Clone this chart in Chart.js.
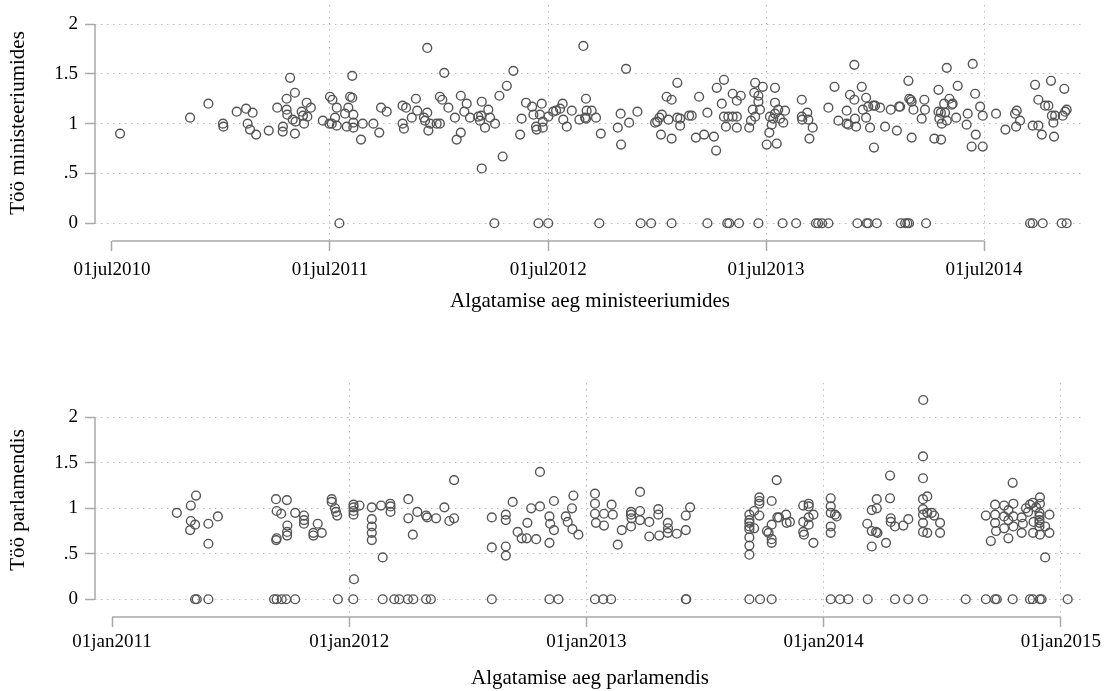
<!DOCTYPE html>
<html>
<head>
<meta charset="utf-8">
<title>Töö ministeeriumides ja parlamendis</title>
<script src="https://cdn.jsdelivr.net/npm/chart.js@4.4.1/dist/chart.umd.min.js"></script>
<style>
  html, body { margin: 0; padding: 0; background: #ffffff; }
  #wrap { position: relative; width: 1108px; height: 691px; overflow: hidden; }
  canvas { position: absolute; left: 0; }
  #topChart { top: 0; }
  #bottomChart { top: 345px; }
</style>
</head>
<body>
<div id="wrap">
  <canvas id="topChart" width="1108" height="345"></canvas>
  <canvas id="bottomChart" width="1108" height="346"></canvas>
</div>
<script>
// Initiation time (decimal year) and workload in the ministries
const ministryDate = [
  2010.533, 2010.854, 2010.938, 2011.005, 2011.007, 2011.068, 2011.111, 2011.141, 2011.118, 2011.129,
  2011.157, 2011.215, 2011.254, 2011.280, 2011.279, 2011.313, 2011.297, 2011.297, 2011.300, 2011.335,
  2011.325, 2011.338, 2011.335, 2011.366, 2011.372, 2011.377, 2011.389, 2011.392, 2011.408, 2011.463,
  2011.496, 2011.507, 2011.527, 2011.519, 2011.504, 2011.493, 2011.527, 2011.539, 2011.580, 2011.588,
  2011.598, 2011.598, 2011.573, 2011.603, 2011.603, 2011.603, 2011.565, 2011.638, 2011.646, 2011.695,
  2011.730, 2011.756, 2011.722, 2011.829, 2011.845, 2011.829, 2011.835, 2011.871, 2011.890, 2011.896,
  2011.927, 2011.932, 2011.942, 2011.942, 2011.947, 2011.955, 2011.985, 2012.000, 2012.000, 2012.011,
  2012.020, 2012.039, 2012.069, 2012.077, 2012.096, 2012.096, 2012.123, 2012.112, 2012.138, 2012.176,
  2012.184, 2012.189, 2012.192, 2012.207, 2012.192, 2012.222, 2012.230, 2012.253, 2012.250, 2012.288,
  2012.273, 2012.307, 2012.337, 2012.368, 2012.375, 2012.395, 2012.423, 2012.429, 2012.441, 2012.444,
  2012.452, 2012.497, 2012.467, 2012.459, 2012.472, 2012.472, 2012.497, 2012.520, 2012.533, 2012.563,
  2012.566, 2012.582, 2012.551, 2012.605, 2012.640, 2012.658, 2012.670, 2012.670, 2012.666, 2012.696,
  2012.673, 2012.716, 2012.738, 2012.731, 2012.816, 2012.829, 2012.831, 2012.854, 2012.868, 2012.906,
  2012.921, 2012.969, 2012.987, 2012.997, 2013.007, 2013.018, 2013.014, 2013.040, 2013.063, 2013.048,
  2013.063, 2013.063, 2013.089, 2013.089, 2013.102, 2013.102, 2013.143, 2013.155, 2013.174, 2013.189,
  2013.212, 2013.227, 2013.227, 2013.257, 2013.267, 2013.270, 2013.293, 2013.303, 2013.303, 2013.323,
  2013.343, 2013.362, 2013.312, 2013.318, 2013.327, 2013.343, 2013.362, 2013.380, 2013.362, 2013.372,
  2013.419, 2013.427, 2013.435, 2013.446, 2013.442, 2013.461, 2013.446, 2013.461, 2013.468, 2013.481,
  2013.461, 2013.499, 2013.511, 2013.514, 2013.522, 2013.529, 2013.537, 2013.537, 2013.537, 2013.545,
  2013.552, 2013.560, 2013.575, 2013.583, 2013.572, 2013.634, 2013.660, 2013.660, 2013.662, 2013.685,
  2013.690, 2013.710, 2013.695, 2013.725, 2013.735, 2013.753, 2013.782, 2013.782, 2013.810, 2013.828,
  2013.866, 2013.866, 2013.874, 2013.881, 2013.901, 2013.901, 2013.904, 2013.909, 2013.915, 2013.958,
  2013.965, 2014.004, 2013.935, 2013.940, 2013.955, 2013.955, 2013.965, 2013.988, 2013.996, 2014.019,
  2013.973, 2013.991, 2014.042, 2014.068, 2014.096, 2014.106, 2014.111, 2014.114, 2014.134, 2014.144,
  2014.152, 2014.149, 2014.153, 2014.160, 2014.164, 2014.172, 2014.164, 2014.210, 2014.222, 2014.225,
  2014.230, 2014.268, 2014.299, 2014.287, 2014.287, 2014.298, 2014.291, 2014.302, 2014.317, 2014.325,
  2014.313, 2014.325, 2014.337, 2014.348, 2014.352, 2014.368, 2014.375, 2014.416, 2014.421, 2014.439,
  2014.444, 2014.455, 2014.458, 2014.478, 2014.490, 2014.490, 2014.551, 2014.594, 2014.638, 2014.646,
  2014.643, 2014.661, 2014.707, 2014.719, 2014.765, 2014.719, 2014.730, 2014.745, 2014.745, 2014.761,
  2014.776, 2014.791, 2014.803, 2014.807, 2014.822, 2014.814, 2014.817, 2014.852, 2014.875, 2014.857,
  2014.864, 2014.868, 2014.875
];
const ministryWork = [
  0.90, 1.06, 1.20, 1.00, 0.97, 1.12, 1.15, 1.11, 1.00, 0.94,
  0.89, 0.93, 1.16, 0.97, 0.92, 1.46, 1.14, 1.25, 1.09, 1.31,
  1.04, 1.02, 0.90, 1.12, 1.08, 1.00, 1.21, 1.07, 1.16, 1.03,
  1.27, 1.24, 1.16, 1.06, 1.00, 1.00, 0.98, 0, 1.16, 1.27,
  1.26, 1.48, 0.97, 1.09, 1.01, 0.96, 1.10, 0.84, 1.00, 1.00,
  1.16, 1.12, 0.91, 1.18, 1.16, 1.00, 0.95, 1.06, 1.25, 1.13,
  1.06, 1.03, 1.76, 1.11, 0.93, 1.00, 1.00, 1.00, 1.27, 1.24,
  1.51, 1.16, 1.06, 0.84, 0.91, 1.28, 1.20, 1.12, 1.06, 1.07,
  1.03, 1.08, 1.22, 0.96, 0.55, 1.14, 1.06, 1.00, 0, 0.67,
  1.28, 1.38, 1.53, 0.89, 1.05, 1.21, 1.17, 1.09, 0.97, 0.94,
  0, 0, 1.20, 1.09, 1.02, 0.96, 1.07, 1.12, 1.13, 1.20,
  1.04, 0.97, 1.15, 1.13, 1.04, 1.78, 1.25, 1.05, 1.06, 1.13,
  1.13, 1.06, 0.90, 0, 0.96, 1.10, 0.79, 1.55, 1.01, 1.12,
  0, 0, 1.01, 1.02, 1.06, 1.09, 0.89, 1.27, 1.24, 1.04,
  0.85, 0, 1.41, 1.06, 1.05, 0.98, 1.08, 1.08, 0.86, 1.27,
  0.89, 1.11, 0, 0.87, 0.73, 1.36, 1.20, 1.44, 1.07, 1.07,
  1.07, 1.07, 0.97, 0, 0, 1.30, 1.23, 1.28, 0.96, 0,
  0.96, 1.03, 1.14, 1.41, 1.31, 1.28, 1.07, 1.22, 1.14, 1.37,
  0, 0.79, 0.91, 1.07, 0.99, 1.05, 1.10, 1.36, 1.21, 0.80,
  1.14, 1.05, 1.01, 1.13, 0, 0, 1.24, 1.07, 1.04, 1.11,
  1.04, 0.96, 0.85, 0, 0, 0, 0, 1.16, 1.37, 1.03,
  1.13, 1.00, 0.99, 1.29, 1.59, 1.24, 1.05, 0.97, 0, 0,
  0, 0, 1.37, 1.14, 1.26, 1.06, 1.17, 1.18, 1.18, 1.16,
  0.96, 0.76, 0.97, 1.14, 0.93, 1.17, 1.17, 0, 0, 0,
  0, 1.43, 1.25, 1.24, 1.22, 1.14, 0.86, 1.05, 1.24, 1.14,
  0, 0.85, 0.84, 1.34, 1.12, 1.11, 1.05, 1.00, 1.11, 1.03,
  1.20, 1.56, 1.25, 1.19, 1.20, 1.06, 1.38, 0.99, 1.10, 0.77,
  1.60, 1.30, 0.89, 1.17, 0.77, 1.08, 1.10, 0.94, 1.10, 1.13,
  0.97, 1.03, 0, 0, 0, 0.98, 1.39, 1.24, 0.98, 0.89,
  1.18, 1.18, 1.43, 1.08, 1.08, 1.01, 0.87, 0, 0, 1.08,
  1.35, 1.12, 1.14
];

// Initiation time (decimal year) and workload in the parliament
const parliamentDate = [
  2011.273, 2011.332, 2011.354, 2011.332, 2011.350, 2011.329, 2011.406, 2011.406, 2011.446, 2011.350,
  2011.357, 2011.406, 2011.691, 2011.694, 2011.713, 2011.694, 2011.692, 2011.737, 2011.739, 2011.738,
  2011.738, 2011.772, 2011.809, 2011.809, 2011.809, 2011.849, 2011.849, 2011.867, 2011.884, 2011.683,
  2011.694, 2011.715, 2011.734, 2011.772, 2011.926, 2011.926, 2011.940, 2011.944, 2011.949, 2011.952,
  2012.020, 2012.017, 2012.018, 2012.018, 2012.018, 2012.018, 2012.043, 2012.095, 2012.095, 2012.095,
  2012.095, 2012.095, 2012.141, 2012.134, 2012.173, 2012.174, 2012.174, 2012.141, 2012.190, 2012.211,
  2012.247, 2012.270, 2012.249, 2012.249, 2012.268, 2012.287, 2012.324, 2012.329, 2012.324, 2012.344,
  2012.366, 2012.401, 2012.422, 2012.442, 2012.442, 2012.601, 2012.601, 2012.601, 2012.660, 2012.660,
  2012.660, 2012.660, 2012.689, 2012.710, 2012.727, 2012.751, 2012.748, 2012.767, 2012.788, 2012.804,
  2012.804, 2012.844, 2012.847, 2012.844, 2012.844, 2012.882, 2012.863, 2012.863, 2012.913, 2012.921,
  2012.939, 2012.945, 2012.941, 2012.966, 2013.036, 2013.036, 2013.036, 2013.040, 2013.074, 2013.074,
  2013.036, 2013.071, 2013.104, 2013.106, 2013.111, 2013.132, 2013.149, 2013.188, 2013.188, 2013.190,
  2013.188, 2013.226, 2013.226, 2013.226, 2013.265, 2013.265, 2013.303, 2013.303, 2013.307, 2013.343,
  2013.343, 2013.344, 2013.381, 2013.419, 2013.419, 2013.437, 2013.419, 2013.421, 2013.687, 2013.687,
  2013.687, 2013.687, 2013.687, 2013.687, 2013.687, 2013.687, 2013.707, 2013.707, 2013.729, 2013.729,
  2013.729, 2013.729, 2013.761, 2013.768, 2013.781, 2013.781, 2013.781, 2013.781, 2013.802, 2013.805,
  2013.812, 2013.842, 2013.844, 2013.858, 2013.914, 2013.914, 2013.914, 2013.917, 2013.937, 2013.937,
  2013.937, 2013.937, 2013.957, 2013.957, 2013.687, 2013.732, 2013.781, 2014.030, 2014.030, 2014.030,
  2014.030, 2014.030, 2014.048, 2014.055, 2014.030, 2014.069, 2014.104, 2014.186, 2014.184, 2014.203,
  2014.203, 2014.203, 2014.224, 2014.224, 2014.221, 2014.227, 2014.263, 2014.280, 2014.280, 2014.283,
  2014.283, 2014.301, 2014.301, 2014.336, 2014.357, 2014.357, 2014.420, 2014.419, 2014.419, 2014.419,
  2014.419, 2014.419, 2014.419, 2014.419, 2014.437, 2014.437, 2014.437, 2014.456, 2014.466, 2014.491,
  2014.491, 2014.419, 2014.599, 2014.684, 2014.705, 2014.723, 2014.723, 2014.723, 2014.727, 2014.761,
  2014.761, 2014.761, 2014.779, 2014.779, 2014.779, 2014.797, 2014.800, 2014.800, 2014.800, 2014.684,
  2014.723, 2014.730, 2014.797, 2014.835, 2014.835, 2014.840, 2014.853, 2014.862, 2014.870, 2014.882,
  2014.883, 2014.885, 2014.910, 2014.910, 2014.910, 2014.910, 2014.910, 2014.912, 2014.912, 2014.912,
  2014.934, 2014.934, 2014.952, 2014.952, 2014.870, 2014.882, 2014.912, 2014.919, 2015.029, 2014.896
];
const parliamentWork = [
  0.95, 1.03, 1.14, 0.86, 0.82, 0.76, 0.83, 0.61, 0.91, 0,
  0, 0, 1.10, 0.97, 0.94, 0.67, 0.65, 1.09, 0.81, 0.74,
  0.70, 0.95, 0.92, 0.87, 0.83, 0.73, 0.70, 0.83, 0.73, 0,
  0, 0, 0, 0, 1.10, 1.07, 1.00, 0.96, 0.92, 0,
  0.22, 0, 1.04, 1.01, 0.97, 0.93, 1.03, 1.01, 0.88, 0.80,
  0.73, 0.65, 0.46, 1.03, 1.05, 1.02, 0.96, 0, 0, 0,
  0, 0, 1.10, 0.89, 0.71, 0.96, 0.92, 0.90, 0, 0,
  0.89, 1.01, 0.86, 0.89, 1.31, 0.90, 0.57, 0, 0.93, 0.87,
  0.58, 0.48, 1.07, 0.74, 0.67, 0.84, 0.67, 1.00, 0.66, 1.40,
  1.02, 0.91, 0.83, 0.62, 0, 0, 1.08, 0.76, 0.91, 0.85,
  1.00, 1.14, 0.77, 0.71, 1.16, 1.05, 0.94, 0.84, 0.94, 0.81,
  0, 0, 0, 1.04, 0.93, 0.60, 0.76, 0.96, 0.93, 0.89,
  0.80, 1.18, 0.97, 0.87, 0.85, 0.69, 0.99, 0.93, 0.70, 0.84,
  0.73, 0.78, 0.72, 0.92, 0.76, 1.01, 0, 0, 0.93, 0.87,
  0.84, 0.80, 0.77, 0.68, 0.59, 0.49, 0.97, 0.78, 1.12, 1.08,
  1.05, 0.92, 0.75, 0.73, 0.82, 0.66, 0.62, 1.08, 1.31, 0.90,
  0.90, 0.93, 0.84, 0.85, 1.03, 0.85, 0.74, 0.71, 1.05, 1.02,
  0.90, 0.82, 0.93, 0.62, 0, 0, 0, 1.11, 1.02, 0.95,
  0.80, 0.73, 0.93, 0.91, 0, 0, 0, 0, 0.83, 0.98,
  0.75, 0.58, 1.10, 1.00, 0.74, 0.73, 0.62, 1.36, 1.11, 0.89,
  0.85, 0.80, 0, 0.81, 0.88, 0, 2.19, 1.57, 1.33, 1.10,
  0.99, 0.93, 0.84, 0.74, 1.13, 0.95, 0.73, 0.95, 0.92, 0.84,
  0.73, 0, 0, 0.92, 0.64, 1.04, 0.93, 0.84, 0.75, 1.03,
  0.91, 0.78, 0.98, 0.87, 0.67, 1.28, 1.05, 0.91, 0.80, 0,
  0, 0, 0, 0.90, 0.73, 0.83, 1.00, 0.96, 1.04, 1.06,
  0.73, 0.85, 0.95, 0.87, 0.80, 0.84, 0.91, 1.12, 1.05, 0.71,
  0.46, 0.80, 0.93, 0.73, 0, 0, 0, 0, 0, 1.01
];

// Axis ticks
const ministryTickLabels = ['01jul2010', '01jul2011', '01jul2012', '01jul2013', '01jul2014'];
const parliamentTickLabels = ['01jan2011', '01jan2012', '01jan2013', '01jan2014', '01jan2015'];
const workTicks = [0, 0.5, 1, 1.5, 2];
const workTickLabels = ['0', '.5', '1', '1.5', '2'];

// ---- helpers ----
const MONTHS = ['jan','feb','mar','apr','may','jun','jul','aug','sep','oct','nov','dec'];
function labelToYear(label) {
  const d = parseInt(label.slice(0, 2), 10);
  const m = MONTHS.indexOf(label.slice(2, 5));
  const y = parseInt(label.slice(5), 10);
  const start = Date.UTC(y, 0, 1);
  const len = Date.UTC(y + 1, 0, 1) - start;
  return y + (Date.UTC(y, m, d) - start) / len;
}

const SERIF = "'Liberation Serif', 'Times New Roman', serif";
const AXIS_COLOR = '#a9a9a9';
const GRID_COLOR = '#bcbcbc';
const MARKER_COLOR = '#555555';

// Axis lines running from the first to the last tick, as in Stata graphs
const tickSpanAxes = {
  id: 'tickSpanAxes',
  beforeDatasetsDraw(chart) {
    const { ctx, chartArea, scales: { x, y } } = chart;
    ctx.save();
    ctx.strokeStyle = AXIS_COLOR;
    ctx.lineWidth = 1.5;
    ctx.setLineDash([]);
    const xa = x.getPixelForValue(x.ticks[0].value);
    const xb = x.getPixelForValue(x.ticks[x.ticks.length - 1].value);
    ctx.beginPath();
    ctx.moveTo(xa, chartArea.bottom);
    ctx.lineTo(xb, chartArea.bottom);
    ctx.stroke();
    const ya = y.getPixelForValue(y.ticks[0].value);
    const yb = y.getPixelForValue(y.ticks[y.ticks.length - 1].value);
    ctx.beginPath();
    ctx.moveTo(chartArea.left, ya);
    ctx.lineTo(chartArea.left, yb);
    ctx.stroke();
    ctx.restore();
  }
};

function buildChart(canvasId, dates, work, tickLabels, xTitle, yTitle, lay) {
  const xTickValues = tickLabels.map(labelToYear);
  const points = dates.map((d, i) => ({ x: d, y: work[i] }));
  return new Chart(document.getElementById(canvasId), {
    type: 'scatter',
    data: {
      datasets: [{
        data: points,
        pointStyle: 'circle',
        pointRadius: 4.4,
        pointHoverRadius: 4.4,
        borderWidth: 1.4,
        borderColor: MARKER_COLOR,
        backgroundColor: 'rgba(0,0,0,0)'
      }]
    },
    options: {
      responsive: false,
      animation: false,
      devicePixelRatio: 1,
      events: [],
      layout: { autoPadding: false, padding: { top: lay.padTop, right: 23, bottom: 0, left: 0 } },
      plugins: { legend: { display: false }, tooltip: { enabled: false } },
      scales: {
        x: {
          type: 'linear',
          position: 'bottom',
          min: lay.xMin,
          max: lay.xMax,
          afterBuildTicks(axis) { axis.ticks = xTickValues.map(v => ({ value: v })); },
          afterFit(axis) { axis.height = lay.xAxisHeight; axis.paddingLeft = 0; axis.paddingRight = 0; },
          ticks: {
            autoSkip: false,
            maxRotation: 0,
            minRotation: 0,
            padding: lay.xTickPad,
            color: '#000',
            font: { family: SERIF, size: 19 },
            callback: (v, i) => tickLabels[i]
          },
          grid: {
            color: (c) => (c.index === 0 ? 'rgba(0,0,0,0)' : GRID_COLOR),
            lineWidth: 1,
            drawTicks: true,
            tickLength: 10,
            tickColor: AXIS_COLOR,
            tickWidth: 1.5,
            tickBorderDash: []
          },
          border: { display: false, dash: [1.5, 4.5] },
          title: {
            display: true,
            text: xTitle,
            color: '#000',
            font: { family: SERIF, size: 21 },
            padding: { top: 0, bottom: lay.xTitlePad }
          }
        },
        y: {
          type: 'linear',
          position: 'left',
          min: lay.yMin,
          max: lay.yMax,
          afterBuildTicks(axis) { axis.ticks = workTicks.map(v => ({ value: v })); },
          afterFit(axis) { axis.width = 95; axis.paddingTop = 0; axis.paddingBottom = 0; },
          ticks: {
            autoSkip: false,
            padding: 7,
            color: '#000',
            font: { family: SERIF, size: 19 },
            callback: (v, i) => workTickLabels[i]
          },
          grid: {
            color: GRID_COLOR,
            lineWidth: 1,
            drawTicks: true,
            tickLength: 10,
            tickColor: AXIS_COLOR,
            tickWidth: 1.5,
            tickBorderDash: []
          },
          border: { display: false, dash: [1.5, 4.5] },
          title: {
            display: true,
            text: yTitle,
            color: '#000',
            font: { family: SERIF, size: 21 },
            padding: { top: 6, bottom: 0 }
          }
        }
      }
    },
    plugins: [tickSpanAxes]
  });
}

buildChart('topChart', ministryDate, ministryWork, ministryTickLabels,
  'Algatamise aeg ministeeriumides', 'Töö ministeeriumides',
  { padTop: 5, xAxisHeight: 104, xTickPad: 8, xTitlePad: 31, xMin: 2010.418, xMax: 2014.959, yMin: -0.178, yMax: 2.191 });

buildChart('bottomChart', parliamentDate, parliamentWork, parliamentTickLabels,
  'Algatamise aeg parlamendis', 'Töö parlamendis',
  { padTop: 38, xAxisHeight: 74, xTickPad: 4, xTitlePad: 0, xMin: 2010.928, xMax: 2015.102, yMin: -0.195, yMax: 2.377 });
</script>
</body>
</html>
